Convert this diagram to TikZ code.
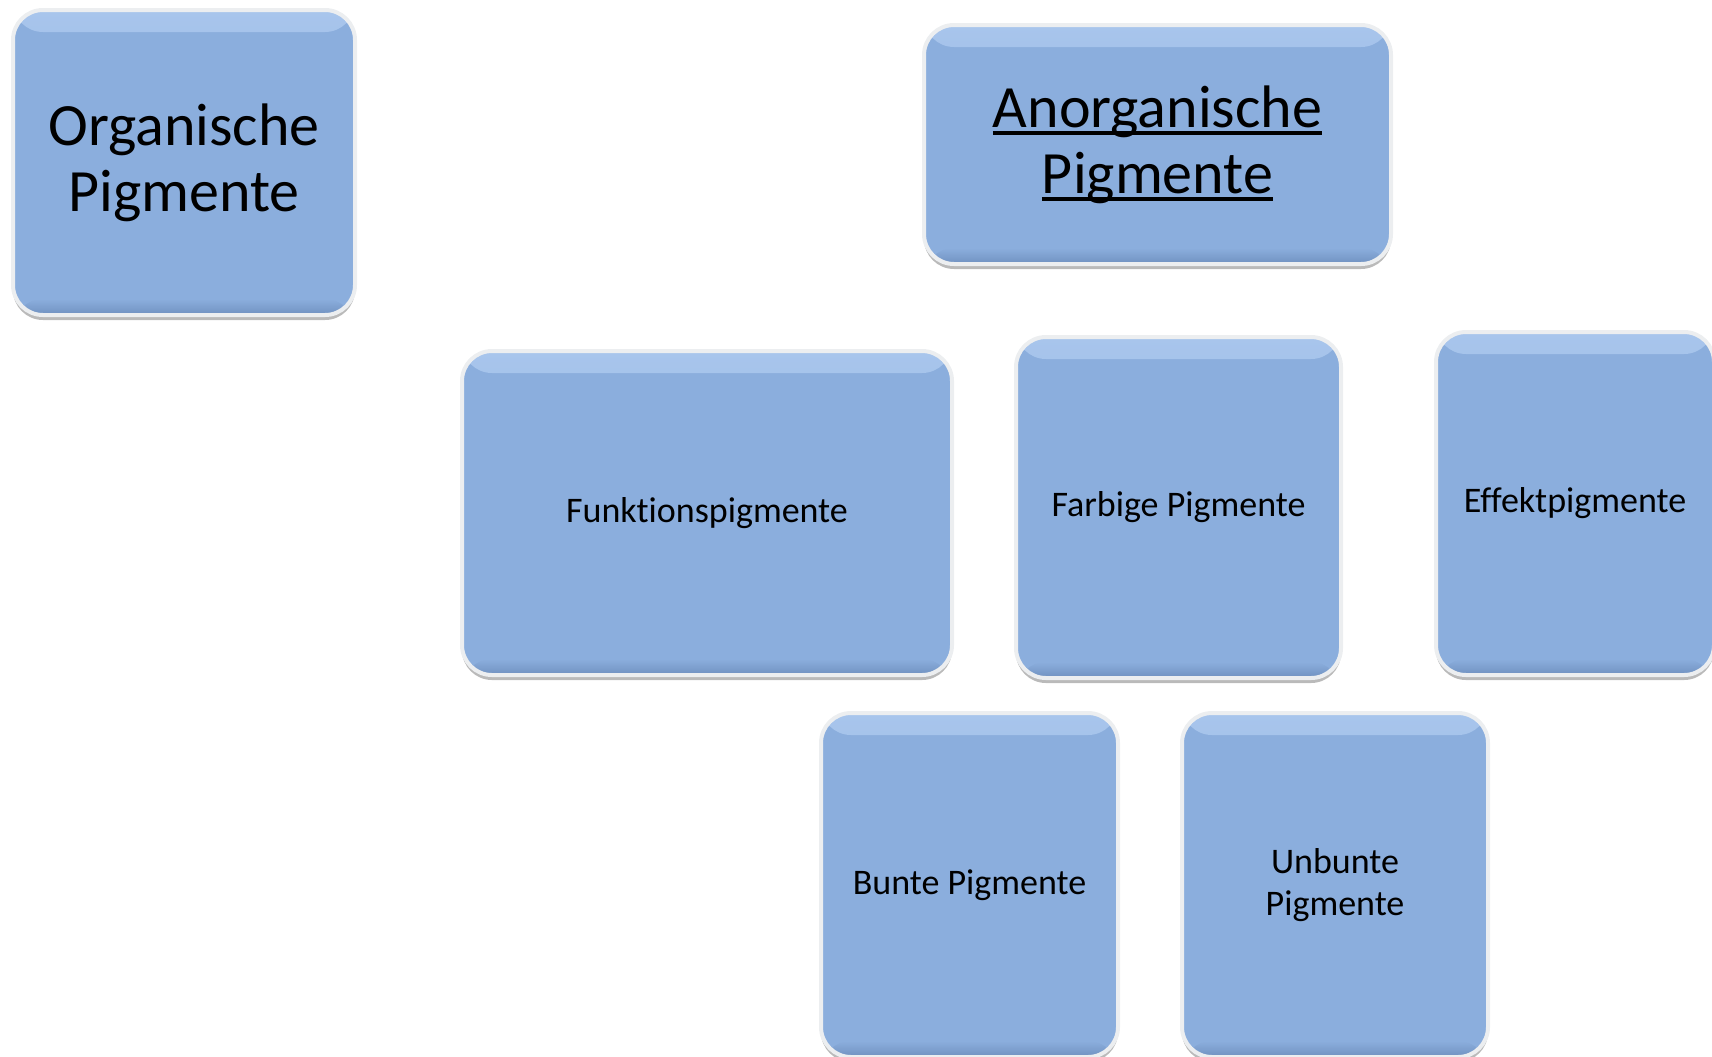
\documentclass[tikz,border=0pt]{standalone}
\usepackage{fontspec}
\setmainfont{Carlito}[Ligatures=NoCommon]
\usepackage{tikz}
\usetikzlibrary{shadows,positioning}

\definecolor{boxblue}{RGB}{139,174,221}
\definecolor{bevtop}{RGB}{168,197,236}
\definecolor{bevbot}{RGB}{112,145,192}
\definecolor{rimgray}{RGB}{236,238,240}

\newcommand{\undertext}[1]{{\setbox0\hbox{#1}\rlap{\rule[-4pt]{\wd0}{2pt}}\box0}}

\begin{document}
\begin{tikzpicture}[x=0.5pt,y=-0.5pt]
		\tikzset{pigbox/.style={rounded corners=15pt,fill=boxblue,draw=rimgray,line width=2pt,
				align=center,inner sep=0pt,
				drop shadow={shadow xshift=0pt,shadow yshift=-2.5pt,opacity=0.45,fill=black!60},
				path picture={
					\shade[top color=bevtop,bottom color=boxblue] (path picture bounding box.north west) rectangle ([yshift=-11pt]path picture bounding box.north east);
					\shade[top color=boxblue,bottom color=bevbot] ([yshift=8pt]path picture bounding box.south west) rectangle (path picture bounding box.south east);}}}
		\tikzset{bigtext/.style={font=\fontsize{30}{33}\selectfont}}
		\tikzset{smalltext/.style={font=\fontsize{18}{21}\selectfont}}
		\useasboundingbox (0,0) rectangle (1712,1056);
		\clip (0,0) rectangle (1712,1056);
		%\fill[white] (0,0) rectangle (1712,1056);
		\node[pigbox,bigtext,minimum width=171pt,minimum height=152.5pt] (organisch) at (184,162.5) {Organische\\Pigmente};
		\node[pigbox,bigtext,minimum width=233.5pt,minimum height=119.5pt] (anorganisch) at (1157.5,144.5) {\undertext{Anorganische}\\\undertext{Pigmente}};
		\node[pigbox,smalltext,minimum width=245pt,minimum height=162pt] (funktion) at (707,513) {Funktionspigmente};
		\node[pigbox,smalltext,minimum width=162.5pt,minimum height=170.5pt] (farbig) at (1178.5,507.5) {Farbige Pigmente};
		\node[pigbox,smalltext,minimum width=139pt,minimum height=171.5pt] (effekt) at (1575,503.5) {Effektpigmente};
		\node[pigbox,smalltext,minimum width=148.5pt,minimum height=172pt] (bunt) at (969.5,885) {Bunte Pigmente};
		\node[pigbox,smalltext,minimum width=153pt,minimum height=172pt] (unbunt) at (1335,885) {Unbunte\\Pigmente};
	\end{tikzpicture}
\end{document}
